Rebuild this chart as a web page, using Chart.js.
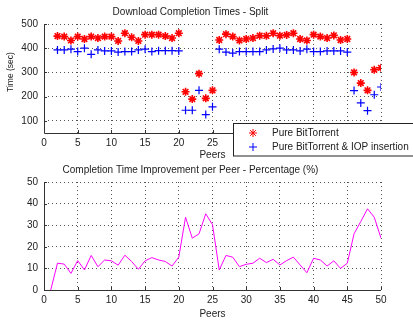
<!DOCTYPE html>
<html>
<head>
<meta charset="utf-8">
<script src="https://cdn.jsdelivr.net/npm/chart.js@4.4.0/dist/chart.umd.min.js"></script>
<style>
body { margin: 0; background: #fff; }
#topChart { position: absolute; left: 0; top: 0; }
#bottomChart { position: absolute; left: 0; top: 162px; }
</style>
</head>
<body>
<canvas id="topChart" width="413" height="162"></canvas>
<canvas id="bottomChart" width="413" height="160"></canvas>
<script>
var peers = [1, 2, 3, 4, 5, 6, 7, 8, 9, 10, 11, 12, 13, 14, 15, 16, 17, 18, 19, 20,
             21, 22, 23, 24, 25, 26, 27, 28, 29, 30, 31, 32, 33, 34, 35, 36, 37, 38, 39, 40,
             41, 42, 43, 44, 45, 46, 47, 48, 49, 50];

// download completion time (sec), peer 1 has none
var pureBitTorrent = [null, 450, 448, 432, 448, 438, 448, 442, 448, 448, 430, 462, 445, 430, 456, 456, 456, 450, 442, 462,
                      220, 190, 295, 193, 226, 434, 458, 448, 432, 438, 442, 452, 451, 462, 452, 455, 462, 438, 432, 456,
                      448, 442, 453, 434, 438, 300, 256, 226, 311, 319];
var iopInsertion = [null, 393, 393, 396, 386, 400, 375, 393, 389, 389, 384, 386, 386, 393, 396, 386, 390, 390, 390, 389,
                    144, 144, 226, 126, 158, 396, 384, 380, 386, 386, 386, 386, 393, 397, 400, 393, 393, 389, 396, 386,
                    386, 389, 389, 389, 384, 225, 174, 142, 208, 240];

// improvement (%)
var improvement = [0, 12.4, 12, 7.7, 13.6, 9.3, 16, 10.8, 13.9, 13.5, 11.5, 16.1, 13.2, 9.6, 13.5, 15, 13.9, 13.2, 11.1, 15.2,
                   33.7, 24, 26, 35.3, 30.2, 9.3, 16, 15.2, 10.8, 11.9, 12.4, 14.7, 12.7, 14.2, 11.6, 13.6, 15.2, 11.6, 8, 14.7,
                   13.9, 11.1, 13.5, 10, 12.4, 26, 31.7, 37.6, 33.7, 24];

var xTicks = [0, 5, 10, 15, 20, 25, 30, 35, 40, 45, 50];
var topYTicks = [100, 200, 300, 400, 500];
var bottomYTicks = [0, 10, 20, 30, 40, 50];

var legendLabels = ['Pure BitTorrent', 'Pure BitTorrent & IOP insertion'];

var FONT = 'Liberation Sans, Arial, Helvetica, sans-serif';
var TXT = '#222';

function pts(ys) {
	var out = [];
	for (var i = 0; i < peers.length; i++) {
		if (ys[i] !== null) out.push({x: peers[i], y: ys[i]});
	}
	return out;
}

function useTicks(list) {
	return function(scale) {
		scale.ticks = list.map(function(v) { return {value: v}; });
	};
}

// solid left/bottom axes with small inward ticks, like matlab
var axesPlugin = {
	id: 'axesPlugin',
	afterDraw: function(chart) {
		var ctx = chart.ctx, a = chart.chartArea;
		var xs = chart.scales.x, ys = chart.scales.y;
		ctx.save();
		ctx.strokeStyle = '#333';
		ctx.lineWidth = 1;
		ctx.beginPath();
		ctx.moveTo(a.left + 0.5, a.top);
		ctx.lineTo(a.left + 0.5, a.bottom + 0.5);
		ctx.lineTo(a.right, a.bottom + 0.5);
		xs.ticks.forEach(function(t) {
			var px = Math.round(xs.getPixelForValue(t.value)) + 0.5;
			ctx.moveTo(px, a.bottom);
			ctx.lineTo(px, a.bottom - 3);
		});
		ys.ticks.forEach(function(t) {
			var py = Math.round(ys.getPixelForValue(t.value)) + 0.5;
			ctx.moveTo(a.left, py);
			ctx.lineTo(a.left + 3, py);
		});
		ctx.stroke();
		ctx.restore();
	}
};

var yLabelPlugin = {
	id: 'yLabel',
	afterDraw: function(chart, args, opts) {
		if (!opts.text) return;
		var ctx = chart.ctx;
		ctx.save();
		ctx.translate(opts.x, opts.y);
		ctx.rotate(-Math.PI / 2);
		ctx.font = opts.size + 'px ' + FONT;
		ctx.fillStyle = TXT;
		ctx.textAlign = 'center';
		ctx.textBaseline = 'middle';
		ctx.fillText(opts.text, 0, 0);
		ctx.restore();
	}
};

var boxLegendPlugin = {
	id: 'boxLegend',
	afterDraw: function(chart) {
		var ctx = chart.ctx;
		ctx.save();
		ctx.fillStyle = '#fff';
		ctx.fillRect(233, 123, 190, 33);
		ctx.strokeStyle = '#222';
		ctx.lineWidth = 1;
		ctx.strokeRect(233.5, 123.5, 190, 32.5);
		var ds = chart.data.datasets;
		for (var i = 0; i < ds.length; i++) {
			var y = 133 + i * 14;
			ctx.strokeStyle = ds[i].borderColor;
			ctx.fillStyle = ds[i].borderColor;
			Chart.helpers.drawPoint(ctx, {
				pointStyle: ds[i].pointStyle,
				radius: ds[i].pointRadius,
				borderWidth: ds[i].borderWidth,
				rotation: 0
			}, 253, y);
			ctx.fillStyle = TXT;
			ctx.font = '10px ' + FONT;
			ctx.textBaseline = 'middle';
			ctx.textAlign = 'left';
			ctx.fillText(ds[i].label, 272, y);
		}
		ctx.restore();
	}
};

function scaleOpts(axis, min, max, tickList, extra) {
	var o = {
		type: 'linear',
		min: min,
		max: max,
		afterBuildTicks: useTicks(tickList),
		ticks: {font: {family: FONT, size: 10}, color: TXT, padding: axis === 'x' ? 4 : 6, autoSkip: false},
		grid: {color: '#555', lineWidth: 1, drawTicks: false, borderDash: [1, 3]},
		border: {display: false, dash: [1, 3]}
	};
	for (var k in extra) o[k] = extra[k];
	return o;
}

new Chart(document.getElementById('topChart'), {
	type: 'scatter',
	data: {
		datasets: [{
			label: legendLabels[0],
			data: pts(pureBitTorrent),
			pointStyle: 'star',
			pointRadius: 4,
			borderWidth: 1.6,
			borderColor: '#ff0000',
			backgroundColor: '#ff0000'
		}, {
			label: legendLabels[1],
			data: pts(iopInsertion),
			pointStyle: 'cross',
			pointRadius: 4,
			borderWidth: 1.2,
			borderColor: '#0000ff',
			backgroundColor: '#0000ff'
		}]
	},
	options: {
		responsive: false,
		animation: false,
		layout: {padding: {left: 0, right: 32, top: 0, bottom: 0}},
		plugins: {
			legend: {display: false},
			tooltip: {enabled: false},
			title: {display: true, text: 'Download Completion Times - Split', color: TXT,
				font: {family: FONT, size: 10, weight: 'normal'}, padding: {top: 6, bottom: 6}},
			yLabel: {text: 'Time (sec)', x: 10.5, y: 72, size: 8.5}
		},
		scales: {
			x: scaleOpts('x', 0, 50, xTicks, {
				title: {display: true, text: 'Peers', color: TXT, font: {family: FONT, size: 10}, padding: {top: 0, bottom: 1}},
				afterFit: function(s) { s.height = 29; }
			}),
			y: scaleOpts('y', 50, 500, topYTicks, {
				afterFit: function(s) { s.width = 44; }
			})
		}
	},
	plugins: [axesPlugin, yLabelPlugin, boxLegendPlugin]
});

new Chart(document.getElementById('bottomChart'), {
	type: 'line',
	data: {
		datasets: [{
			label: 'Improvement',
			data: pts(improvement),
			borderColor: '#ff00ff',
			borderWidth: 1,
			pointRadius: 0,
			tension: 0,
			fill: false
		}]
	},
	options: {
		responsive: false,
		animation: false,
		layout: {padding: {left: 0, right: 32, top: 0, bottom: 0}},
		plugins: {
			legend: {display: false},
			tooltip: {enabled: false},
			title: {display: true, text: 'Completion Time Improvement per Peer - Percentage (%)', color: TXT,
				font: {family: FONT, size: 10, weight: 'normal'}, padding: {top: 2, bottom: 6}}
		},
		scales: {
			x: scaleOpts('x', 0, 50, xTicks, {
				title: {display: true, text: 'Peers', color: TXT, font: {family: FONT, size: 10}, padding: {top: 0, bottom: 2}},
				afterFit: function(s) { s.height = 32; }
			}),
			y: scaleOpts('y', 0, 50, bottomYTicks, {
				afterFit: function(s) { s.width = 44; }
			})
		}
	},
	plugins: [axesPlugin]
});
</script>
</body>
</html>
